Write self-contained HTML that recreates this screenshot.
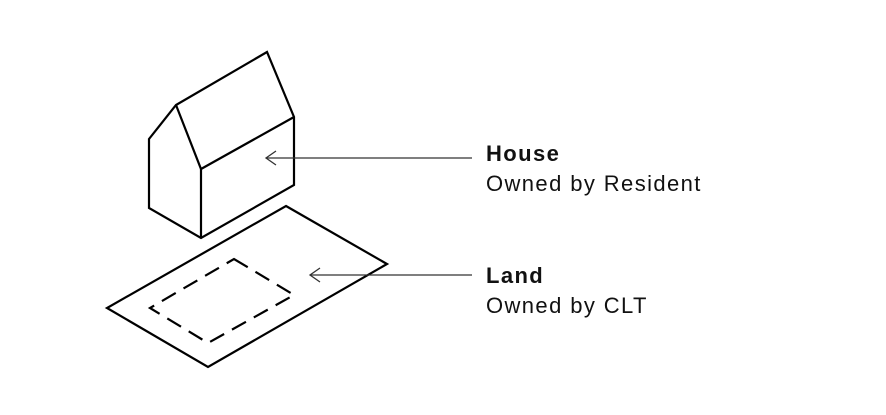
<!DOCTYPE html>
<html><head><style>
body{margin:0;width:886px;height:415px;background:#fff;overflow:hidden;position:relative;font-family:"Liberation Sans",Arial,sans-serif}
.t{position:absolute;left:486px;font-size:22px;color:#111;line-height:24px;letter-spacing:1.4px}
</style></head><body>
<svg width="886" height="415" style="position:absolute;left:0;top:0">
<g fill="none" stroke="#000" stroke-width="2.2" stroke-linejoin="miter">
<polygon points="149,139 176,105 267,52 294,117 294,185 201,238 149,208"/>
<polyline points="176,105 201,169 294,117"/>
<line x1="201" y1="169" x2="201" y2="238"/>
<polygon points="286,206 387,264 208,367 107,308"/>
<polygon points="234,259 294,295 208,343 150,308" stroke-dasharray="16,9"/>
</g>
<g fill="none" stroke="#333" stroke-width="1.3">
<line x1="266" y1="158" x2="472" y2="158"/>
<polyline points="276,151 266,158 276,165"/>
<line x1="310" y1="275" x2="472" y2="275"/>
<polyline points="320,268 310,275 320,282"/>
</g>
</svg>
<div class="t" style="top:142px;font-weight:bold">House</div>
<div class="t" style="top:172px">Owned by Resident</div>
<div class="t" style="top:264px;font-weight:bold">Land</div>
<div class="t" style="top:294px">Owned by CLT</div>
</body></html>
